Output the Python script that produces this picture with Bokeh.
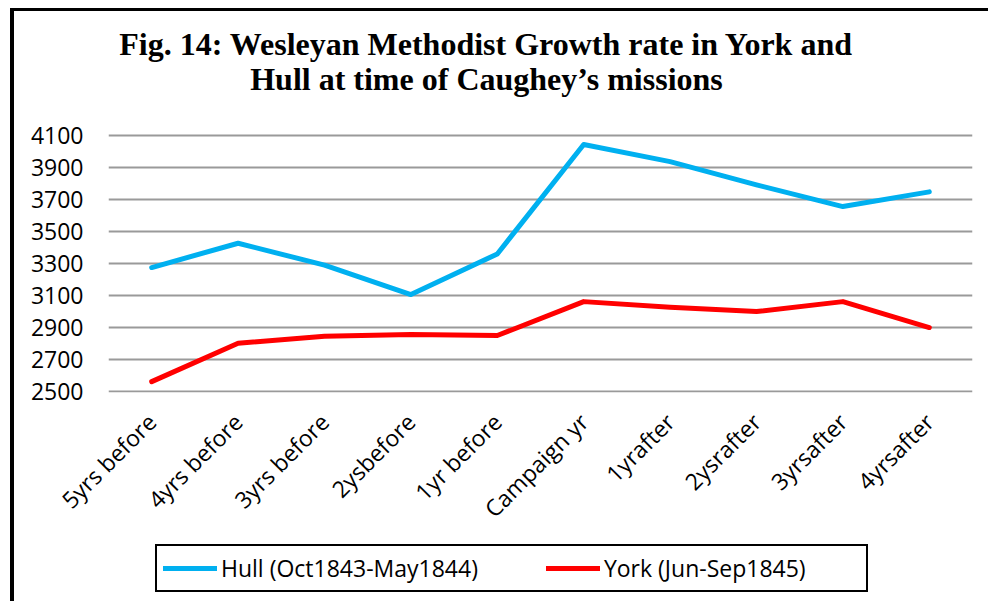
import math
from bokeh.plotting import figure
from bokeh.layouts import column
from bokeh.models import (Range1d, FactorRange, FixedTicker, Legend, LegendItem, Label)
from bokeh.embed import file_html
from bokeh.resources import INLINE

categories = ["5yrs before", "4yrs before", "3yrs before", "2ysbefore", "1yr before",
              "Campaign yr", "1yrafter", "2ysrafter", "3yrsafter", "4yrsafter"]
hull = [3275, 3427, 3290, 3106, 3360, 4044, 3937, 3792, 3656, 3748]
york = [2562, 2802, 2846, 2856, 2850, 3062, 3027, 3000, 3062, 2900]
y_ticks = [2500, 2700, 2900, 3100, 3300, 3500, 3700, 3900, 4100]
hull_label = "Hull (Oct1843-May1844)"
york_label = "York (Jun-Sep1845)"
title_line1 = "Fig. 14: Wesleyan Methodist Growth rate in York and"
title_line2 = "Hull at time of Caughey\u2019s missions"

FONT = "Open Sans"
TFONT = "Liberation Serif"
HULL_COLOR = "#00B0F0"
YORK_COLOR = "#FF0000"

# frame extends upward over the title area; gridlines/ticks only up to 4100
p = figure(x_range=FactorRange(factors=categories, range_padding=0),
           y_range=Range1d(2494, 4856.5),
           frame_width=864, frame_height=378,
           output_backend="svg", toolbar_location=None,
           min_border_left=94, min_border_right=16, min_border_top=3,
           min_border_bottom=149)
p.outline_line_color = None
p.background_fill_color = "white"
p.border_fill_color = "white"

p.line(categories, hull, line_color=HULL_COLOR, line_width=5,
       line_join="round", line_cap="round")
p.line(categories, york, line_color=YORK_COLOR, line_width=5,
       line_join="round", line_cap="round")

p.xgrid.grid_line_color = None
p.ygrid.grid_line_color = "#9a9a9a"
p.ygrid.grid_line_width = 2
p.yaxis.ticker = FixedTicker(ticks=y_ticks)
p.ygrid.ticker = FixedTicker(ticks=y_ticks)

for ax in (p.xaxis[0], p.yaxis[0]):
    ax.axis_line_color = None
    ax.major_tick_line_color = None
    ax.minor_tick_line_color = None
    ax.major_tick_out = 0
    ax.major_label_text_font = FONT
    ax.major_label_text_font_size = "23px"
    ax.major_label_text_color = "black"
p.yaxis.major_label_standoff = 25
p.xaxis.major_label_orientation = math.pi / 4
p.xaxis.major_label_standoff = 25

for txt, yy in ((title_line1, 349), (title_line2, 314)):
    p.add_layout(Label(x=378, y=yy, x_units="screen", y_units="screen", text=txt,
                       text_align="center", text_baseline="alphabetic",
                       text_font=TFONT, text_font_style="bold",
                       text_font_size="32px", text_color="black"))

# legend strip below the chart (its series lie outside its own y range,
# so only the legend is visible there)
p2 = figure(width=974, height=60, output_backend="svg", toolbar_location=None,
            x_range=FactorRange(factors=categories, range_padding=0),
            y_range=Range1d(0, 1),
            x_axis_type=None, y_axis_type=None,
            min_border_left=0, min_border_right=0, min_border_top=0,
            min_border_bottom=0)
p2.outline_line_color = None
p2.border_fill_color = "white"
p2.background_fill_color = "white"
p2.xgrid.visible = False
p2.ygrid.visible = False
k_hull = p2.line(categories, hull, line_color=HULL_COLOR, line_width=5,
                 line_cap="round")
k_york = p2.line(categories, york, line_color=YORK_COLOR, line_width=5,
                 line_cap="round")

legend = Legend(items=[LegendItem(label=hull_label, renderers=[k_hull]),
                       LegendItem(label=york_label, renderers=[k_york])],
                orientation="horizontal", location=(47, 9), margin=0,
                label_text_font=FONT, label_text_font_size="23px",
                label_text_color="black", glyph_width=54, glyph_height=20,
                label_standoff=4, label_width=256, label_height=20,
                spacing=68, padding=6,
                border_line_color="black", border_line_width=2,
                border_line_alpha=1.0,
                background_fill_color="white", background_fill_alpha=1)
p2.add_layout(legend, "center")

layout = column(p, p2, spacing=0)
layout.styles = {"border-left": "4px solid black", "border-top": "3px solid black",
                 "margin-left": "10px", "margin-top": "8px"}

open("out.html", "w").write(file_html(layout, INLINE))
